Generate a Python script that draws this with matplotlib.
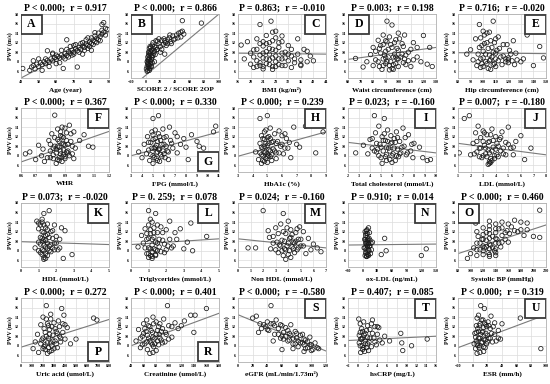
import numpy as np
import matplotlib.pyplot as plt
from matplotlib.patches import Rectangle

plt.rcParams['font.family'] = ['Liberation Serif', 'DejaVu Serif']
plt.rcParams['font.weight'] = 'bold'

# ---- data (PWV in m/s on every y axis) ----
a_x = [41, 45, 46, 47, 48, 49, 50, 51, 52, 53, 54, 55, 56, 57, 58, 59, 60, 61, 62, 63, 64, 65, 66, 67, 68, 69, 70,
       71, 72, 73, 74, 75, 76, 77, 78, 79, 80, 81, 82, 83, 84, 85, 86, 87, 88, 86, 87, 72, 55, 66, 60, 50, 78, 82,
       64, 75, 58, 47, 70, 80,
       52, 54, 56, 58, 60, 62, 63, 65, 66, 67, 68, 69, 70, 71, 73, 74, 75, 76, 77, 78, 79, 80, 81, 82, 83, 84, 85,
       86, 88, 89]
a_y = [6.6, 6.2, 6.9, 7.2, 6.5, 7.5, 7.0, 7.8, 7.4, 8.0, 7.6, 8.3, 7.9, 8.6, 8.2, 8.9, 8.5, 9.1, 8.8, 9.4, 9.0, 9.7,
       9.3, 10.1, 9.8, 10.4, 10.0, 10.7, 10.3, 11.0, 10.6, 11.3, 11.0, 11.7, 11.4, 12.1, 11.8, 12.5, 12.2, 12.9,
       12.6, 13.3, 13.8, 14.2, 15.0, 15.8, 16.2, 6.9, 10.3, 12.6, 7.6, 8.6, 13.0, 14.1, 6.6, 9.6, 9.6, 8.2, 11.4, 10.4,
       6.2, 8.6, 7.0, 9.8, 9.4, 7.8, 10.4, 8.6, 10.6, 9.0, 11.2, 9.4, 9.6, 11.6, 10.0, 11.8, 12.0, 10.4, 12.6, 10.8,
       11.2, 13.0, 11.6, 13.4, 12.0, 14.0, 12.4, 14.6, 13.6, 14.8]

b_x = [1, 2, 2, 3, 3, 3, 4, 4, 4, 5, 5, 5, 6, 6, 6, 7, 7, 8, 8, 9, 9, 10, 10, 11, 12, 13, 14, 15, 16, 18, 20, 22,
       24, 25, 27, 28, 30, 32, 34, 35, 37, 40, 42, 45, 48, 50, 52, 76, 3, 5, 8, 12, 20, 26, 50,
       2, 3, 4, 4, 5, 5, 6, 6, 7, 7, 8, 9, 10, 12, 14, 16, 18, 22, 26, 30, 33, 38, 44, 48]
b_y = [6.5, 7.0, 8.0, 6.2, 7.5, 9.0, 6.8, 8.4, 10.0, 7.2, 8.8, 10.8, 7.6, 9.4, 11.2, 8.0, 9.8, 8.5, 10.4, 9.0, 11.5,
       9.3, 12.0, 9.8, 10.2, 9.5, 11.0, 10.5, 12.3, 11.8, 11.2, 12.5, 11.6, 12.8, 12.0, 11.4, 12.6, 13.0, 12.2, 11.8,
       13.4, 12.8, 13.6, 14.0, 13.2, 14.4, 13.8, 16.1, 7.8, 6.6, 7.0, 8.0, 10.0, 9.6, 16.6,
       6.0, 8.4, 7.4, 9.4, 6.2, 9.8, 8.2, 10.2, 7.0, 11.0, 9.2, 7.8, 10.8, 11.2, 12.4, 10.6, 12.8, 10.6, 12.4, 11.8,
       13.6, 12.6, 13.0, 14.2]

c_x = [17, 18, 19, 20, 20, 21, 21, 22, 22, 23, 23, 23, 24, 24, 24, 25, 25, 25, 26, 26, 26, 27, 27, 27, 28, 28, 28,
       29, 29, 30, 30, 31, 31, 32, 32, 33, 34, 35, 35, 36, 37, 38, 39, 40, 23, 26.5, 28, 30, 24, 27, 33, 36,
       21, 22, 23, 24, 25, 25, 26, 26, 27, 27, 28, 28, 29, 29, 30, 30, 31, 32, 33, 34, 36, 38, 22, 24]
c_y = [11.5, 8.6, 12.2, 7.5, 9.8, 6.8, 10.5, 8.2, 12.8, 7.2, 9.4, 15.8, 6.5, 8.8, 11.3, 7.6, 10.1, 13.5, 8.4, 9.6,
       12.0, 7.0, 10.6, 14.2, 8.0, 9.2, 13.0, 7.4, 11.0, 8.6, 12.2, 7.2, 10.0, 8.2, 11.4, 9.2, 7.8, 9.6, 12.8, 8.4,
       10.6, 8.0, 9.2, 8.2, 11.8, 16.5, 14.4, 13.4, 7.0, 6.4, 6.8, 7.2,
       9.0, 10.6, 7.8, 9.8, 8.6, 11.8, 7.4, 10.8, 8.8, 12.4, 7.0, 10.4, 8.6, 12.0, 9.8, 7.2, 8.8, 9.6, 10.6, 8.6,
       7.4, 10.2, 7.0, 12.2]

d_x = [66, 72, 75, 78, 80, 80, 82, 84, 85, 86, 87, 88, 88, 90, 90, 91, 92, 93, 94, 95, 95, 96, 97, 98, 99, 100, 100,
       102, 103, 104, 105, 106, 108, 110, 110, 112, 115, 118, 120, 123, 125, 127, 91, 95, 85, 100, 93, 105, 88, 98,
       82, 84, 86, 88, 89, 90, 91, 92, 93, 94, 96, 97, 98, 99, 100, 101, 103, 104, 106, 108, 112, 115, 96, 90]
d_y = [8.7, 6.9, 8.0, 9.5, 7.2, 11.0, 8.4, 12.5, 7.0, 9.8, 6.4, 8.6, 11.6, 7.6, 10.2, 16.5, 9.0, 13.2, 8.0, 15.7,
       11.0, 7.4, 9.6, 12.6, 8.6, 7.0, 10.4, 9.0, 11.8, 7.8, 13.6, 9.4, 8.2, 10.6, 7.0, 12.0, 9.0, 8.0, 13.5, 7.5,
       11.0, 7.0, 12.2, 6.6, 10.8, 14.0, 6.3, 8.6, 13.6, 9.0,
       10.2, 8.0, 11.4, 7.2, 9.4, 12.4, 8.0, 10.6, 7.2, 11.6, 9.0, 12.0, 7.6, 10.8, 8.6, 12.8, 9.6, 11.2, 7.4, 10.0,
       8.4, 11.0, 6.4, 8.8]

e_x = [87, 90, 92, 94, 95, 96, 97, 98, 99, 100, 100, 101, 102, 103, 104, 105, 105, 106, 107, 108, 109, 110, 110, 112,
       113, 115, 116, 118, 119, 120, 120, 122, 124, 125, 127, 130, 132, 135, 140, 145, 148, 106, 103, 98, 108, 110,
       120,
       96, 97, 98, 99, 100, 101, 102, 103, 104, 105, 106, 107, 108, 109, 110, 111, 112, 114, 116, 118, 121, 123,
       126, 100]
e_y = [9.6, 10.5, 8.4, 12.8, 7.2, 9.6, 15.8, 8.6, 11.4, 7.0, 10.2, 13.6, 8.0, 12.0, 6.6, 9.4, 14.2, 8.4, 11.0, 16.5,
       7.6, 9.8, 12.8, 8.2, 10.8, 7.4, 9.2, 8.0, 11.6, 7.8, 8.8, 9.6, 12.4, 7.4, 8.4, 8.0, 8.6, 13.6, 7.2, 11.2, 8.8,
       6.4, 14.0, 6.8, 10.0, 7.0, 8.4,
       8.0, 11.0, 13.0, 7.6, 8.8, 11.8, 9.6, 7.6, 10.8, 8.2, 12.4, 9.0, 7.4, 12.0, 8.6, 10.4, 13.2, 9.0, 11.6, 8.6,
       10.4, 8.2, 9.8, 14.4]

f_x = [0.63, 0.66, 0.70, 0.72, 0.74, 0.75, 0.76, 0.78, 0.79, 0.80, 0.81, 0.82, 0.83, 0.83, 0.84, 0.85, 0.85, 0.86,
       0.86, 0.87, 0.87, 0.88, 0.88, 0.89, 0.89, 0.90, 0.90, 0.91, 0.92, 0.93, 0.94, 0.95, 0.96, 0.97, 1.0, 1.03,
       1.06, 1.09, 0.84, 0.86, 0.88, 0.90, 0.92, 0.80,
       0.80, 0.82, 0.83, 0.84, 0.85, 0.86, 0.87, 0.87, 0.88, 0.88, 0.89, 0.89, 0.90, 0.91, 0.91, 0.92, 0.93, 0.94,
       0.95, 0.96, 0.82, 0.85]
f_y = [8.4, 8.8, 7.2, 10.2, 8.0, 9.4, 6.8, 7.6, 11.2, 9.0, 12.6, 7.4, 10.0, 16.5, 8.6, 11.4, 13.6, 7.6, 9.8, 12.2,
       8.4, 10.6, 14.0, 9.2, 11.8, 7.8, 10.2, 12.8, 9.0, 14.4, 11.0, 8.4, 13.0, 9.6, 11.2, 12.4, 10.0, 9.8, 6.4, 7.0,
       6.8, 7.4, 8.6, 10.4,
       7.6, 9.6, 11.8, 9.4, 7.2, 11.0, 9.0, 13.0, 7.8, 12.0, 8.2, 10.4, 13.8, 8.8, 11.2, 10.4, 8.0, 12.6, 10.0, 7.4,
       8.2, 10.0]

g_x = [3.7, 4.0, 4.2, 4.4, 4.5, 4.6, 4.7, 4.8, 4.9, 5.0, 5.0, 5.1, 5.2, 5.3, 5.3, 5.4, 5.5, 5.5, 5.6, 5.7, 5.8, 5.9,
       6.0, 6.0, 6.2, 6.3, 6.5, 6.6, 6.8, 7.0, 7.2, 7.5, 7.8, 8.0, 8.2, 8.5, 9.0, 9.2, 9.6, 10.5, 10.7, 5.0, 5.6, 6.4,
       4.6, 4.8, 4.9, 5.0, 5.1, 5.2, 5.2, 5.3, 5.4, 5.4, 5.5, 5.6, 5.7, 5.8, 5.9, 6.0, 6.1, 6.2, 6.4, 6.7, 7.2, 5.0]
g_y = [8.8, 7.6, 10.4, 8.4, 12.0, 9.2, 7.0, 10.8, 13.0, 8.0, 15.8, 9.6, 11.6, 7.4, 10.2, 8.8, 12.6, 16.4, 9.4, 11.2,
       7.8, 13.6, 10.4, 8.4, 12.0, 9.0, 14.0, 11.2, 9.6, 12.8, 8.6, 10.4, 11.6, 9.8, 7.2, 12.4, 11.0, 10.0, 9.6, 13.0,
       14.2, 6.4, 6.8, 7.2,
       10.8, 8.2, 9.6, 11.4, 7.6, 9.8, 13.4, 8.6, 11.0, 7.0, 9.4, 12.0, 8.2, 10.4, 9.0, 11.8, 7.6, 10.0, 8.8, 10.6,
       12.0, 12.4]

h_x = [4.2, 4.4, 4.5, 4.5, 4.6, 4.6, 4.7, 4.7, 4.8, 4.8, 4.9, 4.9, 5.0, 5.0, 5.0, 5.1, 5.1, 5.2, 5.2, 5.3, 5.4, 5.5,
       5.6, 5.7, 5.8, 5.9, 6.0, 6.1, 6.2, 6.3, 6.5, 6.6, 6.8, 7.0, 7.2, 7.6, 8.3, 8.8, 4.6, 5.0, 4.8, 5.3, 5.6,
       4.5, 4.6, 4.7, 4.7, 4.8, 4.8, 4.9, 4.9, 5.0, 5.0, 5.1, 5.1, 5.2, 5.2, 5.3, 5.4, 5.5, 5.6, 5.8, 6.0, 6.2, 6.4]
h_y = [8.8, 7.2, 10.6, 15.8, 8.2, 12.2, 7.0, 9.6, 11.4, 8.6, 13.4, 7.4, 10.2, 16.4, 8.4, 12.0, 9.2, 13.8, 7.8, 10.8,
       9.4, 12.6, 8.6, 11.0, 13.2, 10.0, 12.2, 8.4, 9.6, 11.6, 10.8, 7.6, 14.0, 10.4, 9.8, 14.2, 8.6, 13.0, 6.4, 6.6,
       6.8, 7.0, 7.4,
       8.6, 9.8, 11.6, 8.0, 10.0, 13.0, 8.8, 10.6, 7.8, 11.8, 8.0, 10.6, 9.0, 11.6, 8.2, 11.0, 9.0, 10.6, 8.6, 10.4,
       12.6, 9.6]

i_x = [2.7, 3.4, 3.8, 4.0, 4.2, 4.4, 4.5, 4.6, 4.8, 4.9, 5.0, 5.1, 5.2, 5.3, 5.4, 5.5, 5.6, 5.7, 5.8, 5.9, 6.0, 6.1,
       6.2, 6.3, 6.4, 6.5, 6.6, 6.7, 6.8, 7.0, 7.1, 7.3, 7.5, 7.7, 7.9, 8.0, 8.5, 8.8, 9.2, 9.5, 4.4, 5.1, 6.0, 5.5,
       4.2, 4.6, 4.8, 5.0, 5.2, 5.4, 5.5, 5.6, 5.8, 5.9, 6.0, 6.2, 6.3, 6.4, 6.5, 6.7, 6.9, 7.2, 7.4, 7.8, 5.3, 4.7]
i_y = [8.6, 10.2, 8.4, 11.4, 9.6, 16.4, 12.8, 8.8, 14.2, 10.4, 7.6, 12.0, 9.0, 15.8, 11.2, 8.2, 13.4, 9.6, 7.2, 12.2,
       10.8, 8.4, 11.6, 7.0, 13.0, 9.4, 7.8, 11.0, 8.6, 13.8, 10.0, 8.2, 12.4, 9.0, 7.6, 10.6, 9.8, 7.6, 7.0, 7.2, 9.0,
       6.4, 6.6, 7.0,
       11.6, 10.6, 8.0, 9.8, 11.2, 7.8, 9.8, 11.0, 9.0, 10.6, 8.0, 9.6, 10.8, 8.0, 11.8, 8.4, 9.8, 11.8, 8.6, 10.4,
       12.6, 9.4]

j_x = [1.1, 1.5, 1.9, 2.0, 2.2, 2.4, 2.5, 2.6, 2.7, 2.8, 2.9, 3.0, 3.1, 3.2, 3.3, 3.4, 3.5, 3.5, 3.6, 3.7, 3.8, 3.9,
       4.0, 4.1, 4.2, 4.3, 4.4, 4.5, 4.6, 4.8, 5.0, 5.2, 5.4, 5.6, 6.0, 6.3, 6.8, 3.5, 3.6, 3.7, 3.4, 2.3,
       2.5, 2.7, 2.8, 3.0, 3.0, 3.1, 3.2, 3.3, 3.4, 3.5, 3.6, 3.7, 3.8, 3.9, 4.0, 4.1, 4.2, 4.4, 4.6, 4.8, 5.0, 5.4]
j_y = [8.6, 15.8, 16.4, 8.2, 10.6, 12.8, 8.8, 14.2, 9.6, 11.8, 7.6, 13.2, 10.2, 8.4, 12.4, 9.2, 6.8, 11.0, 7.4, 13.6,
       9.8, 8.0, 12.0, 10.6, 7.8, 11.4, 9.0, 13.0, 8.4, 10.8, 14.0, 9.6, 8.2, 11.0, 12.2, 7.2, 9.6, 6.4, 6.6, 7.0, 6.2,
       8.4,
       11.0, 7.8, 9.6, 8.0, 11.0, 12.8, 9.6, 7.8, 10.8, 8.6, 12.4, 9.0, 11.2, 7.4, 9.4, 8.2, 10.0, 11.8, 9.6, 8.2,
       10.4, 9.8]

k_x = [0.8, 0.9, 1.0, 1.0, 1.1, 1.1, 1.2, 1.2, 1.2, 1.3, 1.3, 1.3, 1.3, 1.4, 1.4, 1.4, 1.5, 1.5, 1.5, 1.6, 1.6, 1.7,
       1.7, 1.8, 1.8, 1.9, 1.9, 2.0, 2.1, 2.2, 2.3, 2.4, 2.5, 2.9, 1.3, 1.4, 1.25,
       1.0, 1.1, 1.1, 1.2, 1.2, 1.3, 1.3, 1.3, 1.4, 1.4, 1.5, 1.5, 1.5, 1.6, 1.6, 1.7, 1.8, 1.9, 2.0, 2.2, 1.2, 1.0]
k_y = [8.6, 14.2, 9.8, 12.6, 7.6, 13.4, 8.2, 10.6, 14.0, 6.6, 9.2, 11.8, 15.8, 7.4, 10.2, 12.8, 8.4, 11.4, 13.6, 9.0,
       16.4, 7.8, 12.0, 10.6, 8.6, 9.6, 13.4, 11.0, 8.2, 10.4, 12.8, 6.4, 12.2, 7.2, 6.2, 6.4, 10.0,
       8.0, 10.8, 9.4, 7.2, 12.0, 8.0, 10.4, 13.4, 8.8, 11.2, 7.0, 9.6, 12.4, 8.0, 10.8, 9.2, 12.2, 8.2, 9.6, 8.6,
       14.6, 13.8]

l_x = [0.4, 0.6, 0.7, 0.8, 0.9, 0.9, 1.0, 1.0, 1.0, 1.1, 1.1, 1.2, 1.2, 1.2, 1.3, 1.3, 1.4, 1.4, 1.5, 1.5, 1.6, 1.7,
       1.8, 1.9, 2.0, 2.1, 2.2, 2.3, 2.5, 2.6, 2.8, 3.0, 3.2, 3.4, 3.5, 4.3, 1.0, 1.2, 1.4,
       0.8, 0.9, 1.0, 1.0, 1.1, 1.1, 1.2, 1.2, 1.3, 1.3, 1.4, 1.4, 1.5, 1.5, 1.6, 1.7, 1.8, 1.9, 2.0, 2.2, 2.4, 1.1]
l_y = [8.8, 11.2, 9.6, 12.6, 7.4, 10.4, 16.4, 8.6, 13.4, 7.0, 11.6, 9.2, 14.0, 6.4, 10.8, 12.8, 8.2, 15.8, 9.6, 11.8,
       8.8, 13.0, 10.2, 7.6, 12.4, 9.0, 14.2, 8.6, 11.8, 10.4, 12.6, 8.4, 9.8, 13.8, 8.0, 11.0, 6.6, 6.8, 7.2,
       8.6, 11.6, 7.4, 10.6, 8.4, 12.4, 7.8, 10.4, 8.4, 11.8, 7.0, 9.8, 8.0, 13.4, 10.4, 7.8, 11.8, 9.4, 8.2, 10.4,
       9.0, 14.6]

m_x = [0.8, 1.4, 2.0, 2.4, 2.6, 2.8, 3.0, 3.1, 3.2, 3.4, 3.5, 3.6, 3.7, 3.8, 3.9, 4.0, 4.0, 4.1, 4.2, 4.3, 4.4, 4.5,
       4.6, 4.7, 4.8, 4.9, 5.0, 5.2, 5.4, 5.6, 5.8, 6.0, 6.3, 6.6, 3.8, 4.2, 3.6,
       3.0, 3.2, 3.3, 3.5, 3.6, 3.7, 3.8, 3.9, 4.0, 4.1, 4.2, 4.3, 4.4, 4.5, 4.6, 4.7, 4.8, 5.0, 5.2, 3.4, 2.8, 2.5]
m_y = [8.6, 8.6, 16.4, 12.2, 8.4, 11.0, 12.8, 9.8, 7.6, 13.6, 10.2, 15.8, 8.4, 11.6, 9.0, 14.2, 7.2, 10.6, 12.4, 8.8,
       9.8, 7.6, 11.8, 8.2, 10.4, 13.0, 9.0, 12.0, 7.4, 10.6, 8.2, 9.4, 8.6, 7.8, 6.2, 6.6, 7.0,
       8.2, 11.6, 9.2, 8.0, 12.0, 10.0, 8.2, 12.8, 9.6, 8.0, 10.8, 11.4, 8.4, 9.6, 10.0, 12.6, 8.6, 10.4, 9.0, 9.0,
       9.6, 10.8]

n_x = [3, 4, 5, 5, 6, 6, 7, 7, 8, 8, 9, 9, 10, 10, 11, 11, 12, 12, 13, 14, 15, 16, 17, 18, 20, 38, 45, 48, 120, 130,
       8, 12, 15, 10,
       5, 6, 7, 8, 9, 10, 11, 12, 13, 14, 6, 9]
n_y = [8.6, 10.4, 7.0, 12.0, 9.6, 11.2, 8.2, 10.0, 6.8, 12.2, 9.0, 7.6, 11.6, 8.8, 10.4, 7.2, 12.8, 9.4, 8.0, 11.8,
       10.2, 7.4, 9.6, 8.2, 9.8, 7.2, 10.6, 8.0, 7.0, 8.4, 6.8, 7.0, 9.0, 10.2,
       8.6, 10.4, 11.6, 9.4, 10.8, 7.2, 9.6, 8.2, 10.6, 9.0, 7.6, 12.4]

o_x = [95, 100, 105, 108, 110, 110, 112, 115, 118, 120, 120, 120, 120, 122, 125, 128, 130, 130, 130, 130, 132, 135,
       138, 140, 140, 140, 140, 142, 145, 148, 150, 150, 155, 158, 160, 162, 165, 170, 175, 180, 185, 190, 200, 210,
       210, 110, 130, 140,
       110, 115, 120, 120, 125, 125, 130, 130, 130, 130, 135, 140, 140, 140, 145, 150, 150, 155, 160, 170, 180, 190]
o_y = [6.4, 7.4, 8.6, 13.8, 7.0, 9.6, 11.0, 8.2, 10.4, 7.2, 9.0, 11.4, 12.8, 8.6, 10.2, 7.6, 8.4, 10.6, 12.4, 14.2,
       9.2, 11.0, 8.0, 7.6, 9.6, 11.8, 13.6, 10.4, 12.6, 8.8, 11.2, 14.0, 10.4, 12.2, 9.8, 11.6, 13.0, 14.4, 12.0,
       12.4, 11.2, 13.8, 11.0, 16.5, 10.8, 12.0, 6.8, 7.0,
       8.2, 9.6, 8.0, 10.4, 8.8, 11.8, 7.2, 9.4, 11.6, 13.2, 8.6, 8.4, 10.6, 12.6, 9.6, 9.8, 12.8, 11.8, 13.6, 12.2,
       14.0, 12.4]

p_x = [110, 130, 150, 160, 180, 190, 200, 210, 220, 230, 240, 250, 250, 260, 270, 280, 290, 300, 310, 320, 330, 340,
       350, 360, 370, 380, 390, 400, 420, 450, 500, 660, 690, 240, 260, 280, 220,
       180, 200, 210, 220, 230, 240, 250, 260, 270, 280, 290, 300, 310, 320, 330, 350, 360, 380, 400, 230, 270, 200]
p_y = [7.4, 8.8, 10.4, 6.6, 12.4, 9.2, 14.0, 7.8, 10.8, 16.4, 8.6, 12.2, 9.6, 11.4, 13.6, 8.0, 10.2, 12.8, 9.0, 11.0,
       7.6, 13.2, 10.0, 8.8, 15.8, 12.6, 14.4, 9.4, 11.8, 8.4, 9.4, 13.8, 13.4, 6.4, 6.8, 7.0, 7.2,
       8.4, 9.6, 11.6, 8.2, 10.0, 12.6, 7.6, 10.4, 8.6, 12.0, 9.0, 7.4, 11.6, 8.4, 10.6, 12.0, 9.6, 10.8, 12.4, 13.6,
       14.6, 7.4]

r_x = [48, 52, 55, 58, 60, 62, 64, 65, 66, 68, 70, 72, 74, 75, 76, 78, 80, 82, 84, 85, 86, 88, 90, 92, 94, 96, 98,
       100, 105, 110, 115, 120, 125, 135, 140, 142, 160, 70, 75, 80,
       55, 58, 60, 62, 65, 66, 68, 70, 72, 74, 75, 76, 78, 80, 82, 84, 86, 88, 90, 95, 100, 105]
r_y = [9.0, 11.4, 7.6, 10.0, 12.6, 8.4, 11.0, 13.4, 7.2, 9.6, 12.0, 8.6, 10.8, 14.0, 7.8, 9.6, 13.0, 11.2, 8.2, 10.4,
       12.6, 9.2, 11.6, 13.6, 8.8, 10.4, 16.4, 12.2, 9.8, 12.8, 11.6, 12.2, 13.2, 14.4, 10.8, 14.4, 15.8, 6.4, 6.6,
       7.0,
       9.6, 8.2, 10.6, 11.6, 8.8, 10.2, 12.2, 9.0, 11.2, 8.2, 9.8, 12.6, 8.4, 10.4, 9.0, 12.0, 9.6, 11.0, 8.6, 10.8,
       9.4, 12.0]

s_x = [20, 25, 28, 32, 35, 38, 40, 42, 45, 48, 50, 52, 55, 58, 60, 62, 65, 68, 70, 72, 75, 78, 80, 82, 85, 88, 90,
       92, 95, 98, 100, 102, 105, 108, 110, 48, 60, 75, 90, 100,
       30, 40, 45, 50, 55, 58, 60, 62, 65, 68, 70, 72, 75, 78, 80, 82, 85, 88, 90, 92, 95, 98]
s_y = [13.8, 14.2, 10.8, 11.6, 12.4, 12.0, 13.0, 11.2, 16.4, 12.6, 10.4, 13.4, 11.6, 9.6, 12.2, 10.8, 11.8, 9.0, 10.6,
       12.4, 8.4, 11.0, 9.6, 7.8, 10.2, 8.6, 9.4, 7.4, 8.8, 9.8, 8.2, 7.2, 8.6, 7.6, 7.4, 9.0, 7.2, 7.4, 6.8, 7.0,
       12.6, 11.4, 12.6, 12.2, 10.4, 12.4, 10.0, 9.4, 10.0, 11.2, 9.2, 10.2, 9.6, 8.4, 10.6, 9.0, 8.6, 10.4, 8.2, 9.2,
       7.6, 8.2]

t_x = [0.2, 0.3, 0.5, 0.5, 0.8, 1.0, 1.0, 1.2, 1.5, 1.5, 1.8, 2.0, 2.0, 2.3, 2.5, 2.8, 3.0, 3.3, 3.5, 3.8, 4.0, 4.3,
       4.5, 5.0, 5.5, 6.5, 8.8, 9.0, 9.2, 11.0, 14.2, 0.6, 1.4, 2.2,
       0.3, 0.5, 0.6, 0.8, 0.9, 1.0, 1.2, 1.3, 1.5, 1.8, 2.0, 2.5, 3.0, 3.5, 4.0, 2.8]
t_y = [13.6, 10.2, 8.0, 12.6, 9.4, 7.2, 11.0, 13.0, 8.4, 10.6, 7.6, 9.8, 12.2, 8.8, 11.4, 7.8, 13.4, 9.6, 12.0, 8.2,
       10.4, 11.8, 9.2, 8.6, 10.0, 9.0, 10.6, 8.6, 7.0, 8.0, 9.4, 6.6, 6.8, 7.0,
       8.6, 10.8, 9.4, 11.6, 8.0, 9.6, 7.6, 10.2, 9.0, 11.2, 8.4, 9.6, 10.6, 8.8, 12.0, 12.6]

u_x = [2, 3, 4, 5, 5, 6, 7, 8, 8, 9, 10, 10, 11, 12, 13, 14, 15, 15, 16, 17, 18, 19, 20, 21, 22, 24, 25, 27, 28, 30,
       32, 35, 38, 40, 65, 93, 6, 10, 15,
       4, 5, 6, 7, 8, 9, 10, 11, 12, 13, 14, 15, 16, 17, 18, 19, 20, 22, 24, 26, 30, 35]
u_y = [8.4, 10.6, 7.4, 12.2, 9.0, 13.8, 8.0, 11.0, 14.4, 7.6, 9.6, 12.6, 16.4, 8.6, 10.8, 13.4, 7.8, 11.8, 15.8, 9.2,
       12.4, 8.4, 10.2, 13.0, 9.6, 11.6, 14.2, 8.8, 12.0, 10.4, 9.0, 11.2, 9.4, 12.6, 13.8, 7.4, 6.4, 6.6, 6.8,
       9.8, 10.8, 8.4, 11.6, 9.6, 12.2, 8.0, 10.4, 13.4, 8.8, 11.0, 9.4, 12.8, 7.6, 10.6, 12.0, 8.8, 12.2, 9.6, 10.6,
       12.8, 9.6]

letters = ['A', 'B', 'C', 'D', 'E', 'F', 'G', 'H', 'I', 'J', 'K', 'L', 'M', 'N', 'O', 'P', 'R', 'S', 'T', 'U']
titles = ['P < 0.000;  r = 0.917', 'P < 0.000;  r = 0.866', 'P = 0.863;  r = -0.010', 'P = 0.003;  r = 0.198',
          'P = 0.716;  r = -0.020', 'P < 0.000;  r = 0.367', 'P < 0.000;  r = 0.330', 'P < 0.000;  r = 0.239',
          'P = 0.023;  r = -0.160', 'P = 0.007;  r = -0.180', 'P = 0.073;  r = -0.020', 'P = 0. 259;  r = 0.078',
          'P = 0.024;  r = -0.160', 'P = 0.910;  r = 0.014', 'P < 0.000;  r = 0.460', 'P < 0.000;  r = 0.272',
          'P < 0.000;  r = 0.401', 'P < 0.000;  r = -0.580', 'P = 0.407;  r = 0.085', 'P < 0.000;  r = 0.319']
xlabels = ['Age (year)', 'SCORE 2 / SCORE 2OP', 'BMI (kg/m²)', 'Waist circumference (cm)', 'Hip circumference (cm)',
           'WHR', 'FPG (mmol/L)', 'HbA1c (%)', 'Total cholesterol (mmol/L)', 'LDL (mmol/L)',
           'HDL (mmol/L)', 'Triglycerides (mmol/L)', 'Non HDL (mmol/L)', 'ox-LDL (ng/mL)', 'Systolic BP (mmHg)',
           'Uric acid (umol/L)', 'Creatinine (umol/L)', 'eGFR (mL/min/1.73m²)', 'hsCRP (mg/L)', 'ESR (mm/h)']
xmins = [40, -20, 16, 60, 80, 0.6, 3, 3, 2, 1, 0, 0, 0, -30, 80, 0, 40, 0, -2, -20]
xmaxs = [90, 100, 44, 130, 150, 1.2, 11, 9, 10, 8, 5, 5, 7, 150, 220, 800, 180, 120, 16, 100]
xsteps = [10, 20, 4, 10, 10, 0.1, 1, 1, 1, 1, 1, 1, 1, 30, 20, 100, 20, 20, 2, 20]
# trend line value at the left and right edge of each panel
fit_left = [4.6, 2.6, 9.8, 8.5, 9.9, 6.7, 8.0, 7.9, 10.8, 10.6, 9.9, 9.3, 10.5, 9.2, 7.4, 7.7, 8.0, 14.5, 9.1, 7.6]
fit_right = [14.3, 18.0, 9.6, 11.0, 9.7, 13.1, 13.0, 13.0, 8.6, 8.2, 9.3, 10.5, 8.6, 9.4, 13.4, 13.5, 14.8, 6.9,
             10.0, 14.5]
box_corner = ['tl', 'tl', 'tr', 'tl', 'tr', 'tr', 'br', 'tr', 'tr', 'tr', 'tr', 'tr', 'tr', 'tr', 'tl', 'br', 'br',
              'tr', 'tr', 'tr']
xs = [a_x, b_x, c_x, d_x, e_x, f_x, g_x, h_x, i_x, j_x, k_x, l_x, m_x, n_x, o_x, p_x, r_x, s_x, t_x, u_x]
ys = [a_y, b_y, c_y, d_y, e_y, f_y, g_y, h_y, i_y, j_y, k_y, l_y, m_y, n_y, o_y, p_y, r_y, s_y, t_y, u_y]

# ---- layout (pixels of a 550x384 figure) ----
W, H = 550, 384
col_left = [21, 131, 238, 348, 458]
row_top = [14, 108, 203, 298]
aw, ah = 88, 64
bw, bh = 0.23, 0.30

fig = plt.figure(figsize=(5.5, 3.84), dpi=100)

for i in range(20):
    r, c = divmod(i, 5)
    ax = fig.add_axes([col_left[c] / W, 1 - (row_top[r] + ah) / H, aw / W, ah / H])
    lo, hi, st = xmins[i], xmaxs[i], xsteps[i]

    ax.plot([lo, hi], [fit_left[i], fit_right[i]], color='#7a7a7a', lw=0.8, zorder=2)
    ax.scatter(xs[i], ys[i], s=10, facecolors='none', edgecolors='#1a1a1a', linewidths=0.55, zorder=3)

    ax.set_xlim(lo, hi)
    ax.set_ylim(4.6, 18)
    ax.set_xticks(np.round(np.arange(lo, hi + st / 2, st), 2))
    ax.set_yticks(np.arange(6, 19, 2))
    ax.tick_params(length=0, labelsize=3, pad=1.5)
    ax.grid(True, color='#dcdcdc', lw=0.5)
    ax.set_axisbelow(True)
    for sp in ax.spines.values():
        sp.set_color('#b0b0b0')
        sp.set_linewidth(0.6)

    ax.set_title(titles[i], fontsize=7, fontweight='bold', pad=2.5)
    ax.set_xlabel(xlabels[i], fontsize=5.2, fontweight='bold', labelpad=2)
    ax.set_ylabel('PWV (m/s)', fontsize=4.2, fontweight='bold', labelpad=1.5)

    corner = box_corner[i]
    bx = 0.005 if corner == 'tl' else 1 - bw - 0.005
    by = 0.01 if corner == 'br' else 1 - bh - 0.01
    ax.add_patch(Rectangle((bx, by), bw, bh, transform=ax.transAxes, facecolor='white',
                           edgecolor='#3a3a3a', lw=1.3, zorder=5))
    ax.text(bx + bw / 2, by + bh / 2, letters[i], transform=ax.transAxes, ha='center', va='center',
            fontsize=8.5, fontweight='bold', zorder=6)

fig.savefig('out.png', dpi=100)
